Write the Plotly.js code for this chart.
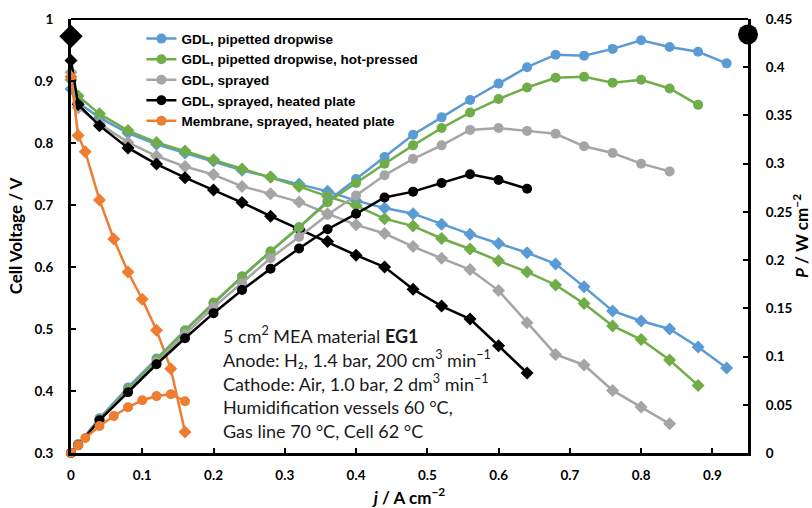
<!DOCTYPE html>
<html>
<head>
<meta charset="utf-8">
<script src="https://cdn.plot.ly/plotly-3.0.1.min.js"></script>
<style>html,body{margin:0;padding:0;background:#fff;}#chart{width:812px;height:508px;}</style>
</head>
<body>
<div id="chart"></div>
<script>
// current density (A cm^-2)
const jMain = [0, 0.01, 0.04, 0.08, 0.12, 0.16, 0.20, 0.24, 0.28, 0.32, 0.36, 0.40, 0.44, 0.48, 0.52, 0.56, 0.60, 0.64, 0.68, 0.72, 0.76, 0.80, 0.84, 0.88, 0.92];
const jMembrane = [0, 0.01, 0.02, 0.04, 0.06, 0.08, 0.10, 0.12, 0.14, 0.16];

// series names
const names = [
  "GDL, pipetted dropwise",
  "GDL, pipetted dropwise, hot-pressed",
  "GDL, sprayed",
  "GDL, sprayed, heated plate",
  "Membrane, sprayed, heated plate"
];

// cell voltage (V)
const vPipetted = [0.887, 0.865, 0.841, 0.816, 0.798, 0.784, 0.771, 0.756, 0.745, 0.734, 0.722, 0.707, 0.695, 0.686, 0.669, 0.653, 0.638, 0.623, 0.605, 0.568, 0.529, 0.513, 0.500, 0.471, 0.437];
const vHotPressed = [0.902, 0.876, 0.847, 0.820, 0.801, 0.787, 0.773, 0.758, 0.745, 0.730, 0.714, 0.699, 0.678, 0.666, 0.646, 0.629, 0.610, 0.592, 0.571, 0.541, 0.505, 0.483, 0.450, 0.409];
const vSprayed = [0.914, 0.857, 0.831, 0.801, 0.779, 0.762, 0.749, 0.730, 0.718, 0.705, 0.686, 0.668, 0.654, 0.633, 0.614, 0.596, 0.562, 0.510, 0.459, 0.442, 0.401, 0.374, 0.347];
const vHeated = [0.933, 0.862, 0.828, 0.792, 0.766, 0.744, 0.724, 0.704, 0.682, 0.661, 0.641, 0.619, 0.600, 0.564, 0.537, 0.516, 0.473, 0.429];
const vMembrane = [0.907, 0.812, 0.786, 0.708, 0.645, 0.592, 0.548, 0.498, 0.436, 0.334];

// power density (W cm^-2)
const pPipetted = [0, 0.009, 0.036, 0.068, 0.098, 0.127, 0.155, 0.183, 0.209, 0.234, 0.261, 0.284, 0.307, 0.330, 0.348, 0.366, 0.383, 0.400, 0.413, 0.412, 0.419, 0.428, 0.421, 0.416, 0.404];
const pHotPressed = [0, 0.009, 0.035, 0.066, 0.097, 0.127, 0.156, 0.183, 0.209, 0.234, 0.260, 0.280, 0.300, 0.319, 0.337, 0.353, 0.367, 0.379, 0.389, 0.390, 0.384, 0.387, 0.378, 0.361];
const pSprayed = [0, 0.009, 0.034, 0.064, 0.094, 0.123, 0.151, 0.176, 0.202, 0.224, 0.247, 0.267, 0.288, 0.305, 0.319, 0.335, 0.337, 0.334, 0.331, 0.318, 0.311, 0.300, 0.292];
const pHeated = [0, 0.008, 0.034, 0.063, 0.092, 0.119, 0.145, 0.169, 0.191, 0.212, 0.232, 0.248, 0.265, 0.271, 0.280, 0.289, 0.283, 0.274];
const pMembrane = [0, 0.008, 0.0156, 0.028, 0.0384, 0.0474, 0.0547, 0.059, 0.061, 0.0537];

// axis indicator markers
const voltIndicator = {x: [0], y: [0.972]};
const powerIndicator = {x: [0.95], y: [0.434]};

// tick values
const xTicks = [0, 0.1, 0.2, 0.3, 0.4, 0.5, 0.6, 0.7, 0.8, 0.9];
const yTicks = [0.3, 0.4, 0.5, 0.6, 0.7, 0.8, 0.9, 1];
const y2Ticks = [0, 0.05, 0.1, 0.15, 0.2, 0.25, 0.3, 0.35, 0.4, 0.45];

const colors = ["#5B9BD5", "#70AD47", "#A5A5A5", "#000000", "#ED7D31"];

const vData = [vPipetted, vHotPressed, vSprayed, vHeated, vMembrane];
const pData = [pPipetted, pHotPressed, pSprayed, pHeated, pMembrane];
const jData = [jMain, jMain, jMain, jMain, jMembrane];

const traces = [];
for (let i = 0; i < 5; i++) {
  const n = vData[i].length;
  traces.push({
    x: jData[i].slice(0, n), y: vData[i], yaxis: 'y', type: 'scatter', mode: 'lines+markers',
    name: names[i], showlegend: false, cliponaxis: false,
    line: {color: colors[i], width: 2.5},
    marker: {symbol: 'diamond', size: 10, color: colors[i]}
  });
}
for (let i = 0; i < 5; i++) {
  const n = pData[i].length;
  traces.push({
    x: jData[i].slice(0, n), y: pData[i], yaxis: 'y2', type: 'scatter', mode: 'lines+markers',
    name: names[i], showlegend: true, cliponaxis: false, legendrank: i + 1,
    line: {color: colors[i], width: 2.5},
    marker: {symbol: 'circle', size: 10, color: colors[i]}
  });
}
traces.push({
  x: voltIndicator.x, y: voltIndicator.y, yaxis: 'y', type: 'scatter', mode: 'markers',
  showlegend: false, cliponaxis: false, hoverinfo: 'skip',
  marker: {symbol: 'diamond', size: 18, color: '#000'}
});
traces.push({
  x: powerIndicator.x, y: powerIndicator.y, yaxis: 'y2', type: 'scatter', mode: 'markers',
  showlegend: false, cliponaxis: false, hoverinfo: 'skip',
  marker: {symbol: 'circle', size: 20, color: '#000'}
});

const tickFont = {family: 'Lato, "DejaVu Sans", sans-serif', size: 13.5, color: '#000', weight: 'bold'};
const titleFont = {family: 'Lato, "DejaVu Sans", sans-serif', size: 17, color: '#000', weight: 'bold'};
const noteFont = {family: 'Lato, "DejaVu Sans", sans-serif', size: 18, color: '#1a1a1a'};

const noteLines = [
  "5 cm<sup>2</sup> MEA material <b>EG1</b>",
  "Anode: H₂, 1.4 bar, 200 cm<sup>3</sup> min<sup>−1</sup>",
  "Cathode: Air, 1.0 bar, 2 dm<sup>3</sup> min<sup>−1</sup>",
  "Humidification vessels 60 °C,",
  "Gas line 70 °C, Cell 62 °C"
];
const noteY = [0.2716, 0.2162, 0.1608, 0.1054, 0.0500];
const annotations = noteLines.map((t, k) => ({
  text: t, xref: 'paper', yref: 'paper', x: 0.2217, y: noteY[k],
  xanchor: 'left', yanchor: 'middle', showarrow: false, font: noteFont
}));

const layout = {
  width: 812, height: 508,
  margin: {l: 71, r: 64, t: 19, b: 55},
  paper_bgcolor: '#fff', plot_bgcolor: '#fff',
  showlegend: true,
  legend: {
    x: 0.104, y: 0.99, xanchor: 'left', yanchor: 'top',
    bgcolor: 'rgba(0,0,0,0)', borderwidth: 0,
    font: {family: '"Liberation Sans", Arial, sans-serif', size: 13.5, color: '#000', weight: 'bold'},
    traceorder: 'normal', tracegroupgap: 0
  },
  xaxis: {
    range: [0, 0.95], tickvals: xTicks, ticktext: xTicks.map(String),
    ticks: 'inside', ticklen: 5, tickwidth: 2, tickcolor: '#000',
    showline: true, linewidth: 3, linecolor: '#000',
    showgrid: false, zeroline: false, tickfont: tickFont, ticklabelstandoff: 8,
    title: {text: '<i>j</i> / A cm<sup>−2</sup>', font: titleFont, standoff: 10}
  },
  yaxis: {
    range: [0.3, 1], tickvals: yTicks, ticktext: yTicks.map(String),
    ticks: 'inside', ticklen: 5, tickwidth: 2, tickcolor: '#000',
    showline: true, linewidth: 3, linecolor: '#000',
    showgrid: false, zeroline: false, tickfont: tickFont, ticklabelstandoff: 12,
    title: {text: 'Cell Voltage / V', font: titleFont, standoff: 8}
  },
  yaxis2: {
    range: [0, 0.45], overlaying: 'y', side: 'right',
    tickvals: y2Ticks, ticktext: y2Ticks.map(String),
    ticks: 'inside', ticklen: 5, tickwidth: 2, tickcolor: '#000',
    showline: true, linewidth: 3, linecolor: '#000',
    showgrid: false, zeroline: false, tickfont: tickFont, ticklabelstandoff: 12,
    title: {text: '<i>P</i> / W cm<sup>−2</sup>', font: titleFont, standoff: 6}
  },
  shapes: [{type: 'line', xref: 'paper', yref: 'paper', x0: 0, x1: 1, y0: 1, y1: 1, line: {color: '#000', width: 2}}],
  annotations: annotations
};

Plotly.newPlot('chart', traces, layout, {displayModeBar: false, staticPlot: true});
</script>
</body>
</html>
